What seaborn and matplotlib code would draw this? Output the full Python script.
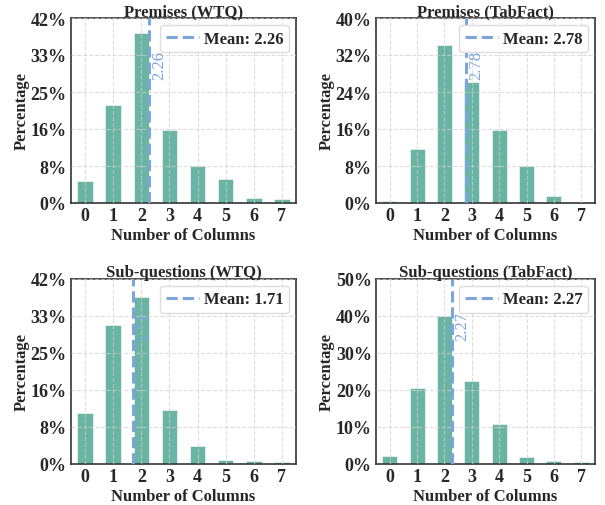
import numpy as np
import pandas as pd
import seaborn as sns
import matplotlib.pyplot as plt
from matplotlib.ticker import FuncFormatter

# --- Données ---
n_cols = [0, 1, 2, 3, 4, 5, 6, 7]
premises_wtq = [5.1, 22.3, 38.5, 16.6, 8.3, 5.4, 1.2, 0.8]
premises_tabfact = [0.5, 11.7, 34.2, 26.1, 15.7, 7.9, 1.5, 0.1]
subq_wtq = [11.6, 31.6, 37.9, 12.2, 4.2, 1.0, 0.75, 0.5]
subq_tabfact = [2.2, 20.6, 39.9, 22.5, 10.9, 2.0, 0.7, 0.5]

titles = ["Premises (WTQ)", "Premises (TabFact)", "Sub-questions (WTQ)", "Sub-questions (TabFact)"]
means = [2.26, 2.78, 1.71, 2.27]
y_max = [42, 40, 42, 50]

# --- Style ---
sns.set_style("whitegrid")
plt.rcParams['font.family'] = ['Liberation Serif', 'DejaVu Serif']
plt.rcParams['font.weight'] = 'bold'
plt.rcParams['axes.titleweight'] = 'bold'
plt.rcParams['axes.labelweight'] = 'bold'

bar_color = "#45a28e"
mean_color = "#7aa6dd"

fig = plt.figure(figsize=(6.05, 5.06), dpi=100)
W, H = 605, 506
boxes = [(71, 19, 296, 204), (376, 19, 595, 204), (71, 280, 296, 465), (376, 280, 595, 465)]

all_vals = [premises_wtq, premises_tabfact, subq_wtq, subq_tabfact]
for i, vals in enumerate(all_vals):
    x0, y0, x1, y1 = boxes[i]
    ax = fig.add_axes([x0 / W, 1 - y1 / H, (x1 - x0) / W, (y1 - y0) / H])
    df = pd.DataFrame({"cols": n_cols, "pct": vals})
    sns.barplot(data=df, x="cols", y="pct", color=bar_color, alpha=0.8,
                width=0.55, saturation=1, edgecolor="white", linewidth=0.5, ax=ax)
    ax.set_axisbelow(False)
    ax.grid(True, linestyle="--", color="#d0d0d0", linewidth=0.8, alpha=0.7)

    ax.axvline(means[i], color=mean_color, linestyle="--", linewidth=2.2,
               label=f"Mean: {means[i]:.2f}", zorder=3)
    ax.text(means[i] + 0.1, 0.83, f"{means[i]:.2f}", transform=ax.get_xaxis_transform(),
            rotation=90, color=mean_color, fontsize=12, fontweight="normal",
            ha="left", va="top")

    ax.set_ylim(0, y_max[i])
    ax.set_yticks(np.linspace(0, y_max[i], 6))
    ax.yaxis.set_major_formatter(FuncFormatter(lambda v, p: f"{int(v)}%"))
    ax.set_xlim(-0.5, 7.5)
    ax.set_title(titles[i], fontsize=12, pad=2)
    ax.set_xlabel("Number of Columns", fontsize=12, labelpad=2)
    ax.set_ylabel("Percentage", fontsize=12, labelpad=1)
    ax.tick_params(axis="both", labelsize=13, pad=1, length=2)
    for sp in ax.spines.values():
        sp.set_color("#333333")
        sp.set_linewidth(1.2)
    leg = ax.legend(loc="upper right", fontsize=12, handlelength=2.0, borderpad=0.35,
                    handletextpad=0.3, borderaxespad=0.4, framealpha=1)
    leg.get_frame().set_edgecolor("#dddddd")

fig.savefig("out.png", dpi=100)
